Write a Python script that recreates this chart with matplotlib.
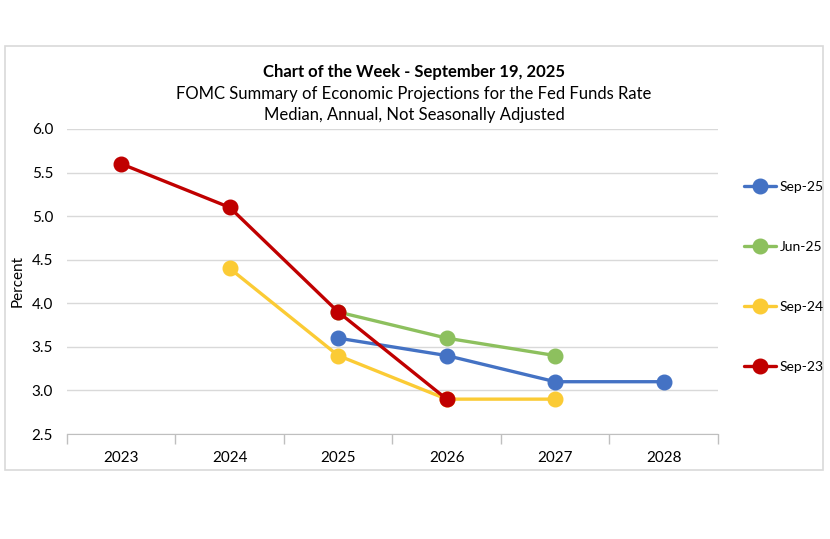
import matplotlib.pyplot as plt
import matplotlib.patches as patches
from matplotlib.ticker import FormatStrFormatter

plt.rcParams['font.family'] = ['Lato', 'DejaVu Sans']

# Median projections
years = [2023, 2024, 2025, 2026, 2027, 2028]
sep25_years = [2025, 2026, 2027, 2028]
sep25_vals = [3.6, 3.4, 3.1, 3.1]
jun25_years = [2025, 2026, 2027]
jun25_vals = [3.9, 3.6, 3.4]
sep24_years = [2024, 2025, 2026, 2027]
sep24_vals = [4.4, 3.4, 2.9, 2.9]
sep23_years = [2023, 2024, 2025, 2026]
sep23_vals = [5.6, 5.1, 3.9, 2.9]
y_ticks = [2.5, 3.0, 3.5, 4.0, 4.5, 5.0, 5.5, 6.0]

series = [
    ("Sep-25", sep25_years, sep25_vals, "#4472C4"),
    ("Jun-25", jun25_years, jun25_vals, "#8DC05E"),
    ("Sep-24", sep24_years, sep24_vals, "#FBCB35"),
    ("Sep-23", sep23_years, sep23_vals, "#C00000"),
]

fig = plt.figure(figsize=(8.3, 5.39), dpi=100)
ax = fig.add_axes([0.0807, 0.1948, 0.7843, 0.5659])

# outer chart border
fig.patches.append(patches.Rectangle((5 / 830, 1 - 470 / 539), 818 / 830, 424 / 539,
                                     transform=fig.transFigure, fill=False,
                                     edgecolor="#D9D9D9", linewidth=1.2))

for label, xs, vals, color in series:
    ax.plot(xs, vals, color=color, lw=2.4, marker='o', markersize=10.5,
            label=label, solid_capstyle='round')

ax.set_xlim(2022.5, 2028.5)
ax.set_ylim(2.5, 6.0)
ax.set_yticks(y_ticks)
ax.yaxis.set_major_formatter(FormatStrFormatter('%.1f'))
ax.set_xticks(years)
ax.set_xticklabels([str(y) for y in years])
ax.set_xticks([y - 0.5 for y in years] + [2028.5], minor=True)
ax.tick_params(axis='x', which='major', length=0, pad=12, labelsize=11)
ax.tick_params(axis='x', which='minor', length=7, color="#BFBFBF", width=1)
ax.tick_params(axis='y', length=0, pad=10, labelsize=11)
ax.grid(axis='y', color="#D9D9D9", lw=1)
ax.set_axisbelow(True)
for side in ['left', 'right', 'top']:
    ax.spines[side].set_visible(False)
ax.spines['bottom'].set_color("#BFBFBF")
ax.set_ylabel("Percent", fontsize=11, labelpad=5)

fig.text(0.4988, 1 - 72 / 539, "Chart of the Week - September 19, 2025",
         ha='center', va='center', fontsize=12, fontweight='bold')
fig.text(0.4988, 1 - 94 / 539, "FOMC Summary of Economic Projections for the Fed Funds Rate",
         ha='center', va='center', fontsize=12)
fig.text(0.4988, 1 - 115 / 539, "Median, Annual, Not Seasonally Adjusted",
         ha='center', va='center', fontsize=12)

fig.legend(loc='center left', bbox_to_anchor=(737 / 830, 1 - 277 / 539),
           frameon=False, fontsize=10, labelspacing=3.45, handlelength=2.3,
           handletextpad=0.25, borderpad=0)

fig.savefig("out.png", dpi=100)
